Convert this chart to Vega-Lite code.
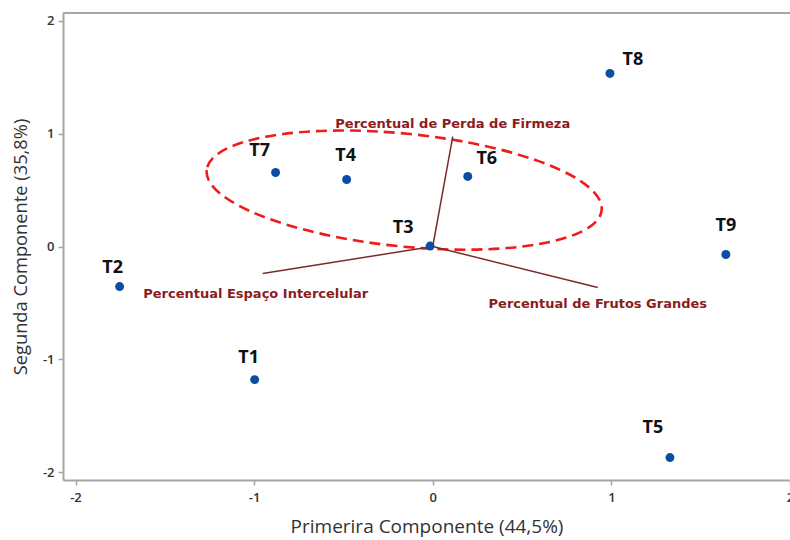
{
  "$schema": "https://vega.github.io/schema/vega-lite/v6.json",
  "width": 727,
  "height": 467,
  "autosize": {"type": "none"},
  "padding": {"left": 63, "top": 13, "right": 0, "bottom": 60},
  "background": "white",
  "config": {
    "view": {"stroke": null},
    "axis": {
      "grid": false,
      "domainColor": "#a6a6a6",
      "domainWidth": 2,
      "tickColor": "#a6a6a6",
      "tickWidth": 1.5,
      "tickSize": 5,
      "labelFont": "Open Sans",
      "labelFontSize": 13,
      "labelFontWeight": 600,
      "labelColor": "#333333",
      "labelExpr": "replace(datum.label, '\u2212', '-')",
      "titleFont": "Open Sans",
      "titleFontWeight": "normal",
      "titleColor": "#333333"
    }
  },
  "datasets": {
    "scores": [
      {"t": "T1", "pc1": -0.997, "pc2": -1.18},
      {"t": "T2", "pc1": -1.753, "pc2": -0.355},
      {"t": "T3", "pc1": -0.015, "pc2": 0.004},
      {"t": "T4", "pc1": -0.482, "pc2": 0.594},
      {"t": "T5", "pc1": 1.328, "pc2": -1.871},
      {"t": "T6", "pc1": 0.196, "pc2": 0.621},
      {"t": "T7", "pc1": -0.88, "pc2": 0.656},
      {"t": "T8", "pc1": 0.992, "pc2": 1.534},
      {"t": "T9", "pc1": 1.641, "pc2": -0.071}
    ],
    "loadings": [
      {"v": "Percentual de Perda de Firmeza", "pc1": 0.112, "pc2": 0.975},
      {"v": "Percentual Espaço Intercelular", "pc1": -0.952, "pc2": -0.239},
      {"v": "Percentual de Frutos Grandes", "pc1": 0.924, "pc2": -0.363}
    ],
    "group": [
      {"g": "grupo", "pc1": -0.16, "pc2": 0.5}
    ]
  },
  "encoding": {
    "x": {
      "field": "pc1", "type": "quantitative",
      "scale": {"domain": [-2.07, 2.0], "nice": false, "zero": false},
      "axis": {"values": [-2, -1, 0, 1, 2], "title": "Primerira Componente (44,5%)", "titleFontSize": 19, "titlePadding": 13, "labelPadding": 6, "labelFlush": false}
    },
    "y": {
      "field": "pc2", "type": "quantitative",
      "scale": {"domain": [-2.07, 2.07], "nice": false, "zero": false},
      "axis": {"values": [-2, -1, 0, 1, 2], "title": "Segunda Componente (35,8%)", "titleFontSize": 18.3, "titlePadding": 12, "labelPadding": 4}
    }
  },
  "layer": [
    {
      "data": {"name": "group"},
      "mark": {"type": "rule", "color": "#a6a6a6", "strokeWidth": 2},
      "encoding": {
        "y": {"datum": 2.07, "type": "quantitative"},
        "x": {"datum": -2.07, "type": "quantitative"},
        "x2": {"datum": 2.0}
      }
    },
    {
      "data": {"name": "group"},
      "mark": {
        "type": "point",
        "shape": "M -0.9949 -0.1011 A 1 0.284 5.8 1 0 0.9949 0.1011 A 1 0.284 5.8 1 0 -0.9949 -0.1011 Z",
        "size": 157609,
        "filled": false,
        "stroke": "#ee1c1c",
        "strokeWidth": 2.6,
        "strokeDash": [11, 6],
        "opacity": 1
      }
    },
    {
      "data": {"name": "loadings"},
      "mark": {"type": "rule", "color": "#7b2b2b", "strokeWidth": 1.5},
      "encoding": {
        "x": {"datum": 0, "type": "quantitative"},
        "y": {"datum": 0, "type": "quantitative"},
        "x2": {"field": "pc1"},
        "y2": {"field": "pc2"}
      }
    },
    {
      "data": {"name": "scores"},
      "mark": {"type": "point", "filled": true, "color": "#0a4da2", "size": 80, "opacity": 1}
    },
    {
      "data": {"name": "loadings"},
      "transform": [{"filter": "datum.v == 'Percentual de Perda de Firmeza'"}],
      "mark": {"type": "text", "font": "DejaVu Sans", "fontSize": 13, "fontWeight": "bold", "color": "#8b1c1c", "dx": 0, "dy": -13},
      "encoding": {"text": {"field": "v"}}
    },
    {
      "data": {"name": "loadings"},
      "transform": [{"filter": "datum.v == 'Percentual Espaço Intercelular'"}],
      "mark": {"type": "text", "font": "DejaVu Sans", "fontSize": 13, "fontWeight": "bold", "color": "#8b1c1c", "dx": -7, "dy": 21},
      "encoding": {"text": {"field": "v"}}
    },
    {
      "data": {"name": "loadings"},
      "transform": [{"filter": "datum.v == 'Percentual de Frutos Grandes'"}],
      "mark": {"type": "text", "font": "DejaVu Sans", "fontSize": 13, "fontWeight": "bold", "color": "#8b1c1c", "dx": 0, "dy": 17},
      "encoding": {"text": {"field": "v"}}
    },
    {"data": {"name": "scores"}, "transform": [{"filter": "datum.t == 'T1'"}],
     "mark": {"type": "text", "font": "Open Sans", "fontSize": 18, "fontWeight": "bold", "color": "#111111", "dx": -6, "dy": -22},
     "encoding": {"text": {"field": "t"}}},
    {"data": {"name": "scores"}, "transform": [{"filter": "datum.t == 'T2'"}],
     "mark": {"type": "text", "font": "Open Sans", "fontSize": 18, "fontWeight": "bold", "color": "#111111", "dx": -7, "dy": -19},
     "encoding": {"text": {"field": "t"}}},
    {"data": {"name": "scores"}, "transform": [{"filter": "datum.t == 'T3'"}],
     "mark": {"type": "text", "font": "Open Sans", "fontSize": 18, "fontWeight": "bold", "color": "#111111", "dx": -27, "dy": -18},
     "encoding": {"text": {"field": "t"}}},
    {"data": {"name": "scores"}, "transform": [{"filter": "datum.t == 'T4'"}],
     "mark": {"type": "text", "font": "Open Sans", "fontSize": 18, "fontWeight": "bold", "color": "#111111", "dx": -1, "dy": -23},
     "encoding": {"text": {"field": "t"}}},
    {"data": {"name": "scores"}, "transform": [{"filter": "datum.t == 'T5'"}],
     "mark": {"type": "text", "font": "Open Sans", "fontSize": 18, "fontWeight": "bold", "color": "#111111", "dx": -17, "dy": -30},
     "encoding": {"text": {"field": "t"}}},
    {"data": {"name": "scores"}, "transform": [{"filter": "datum.t == 'T6'"}],
     "mark": {"type": "text", "font": "Open Sans", "fontSize": 18, "fontWeight": "bold", "color": "#111111", "dx": 19, "dy": -17},
     "encoding": {"text": {"field": "t"}}},
    {"data": {"name": "scores"}, "transform": [{"filter": "datum.t == 'T7'"}],
     "mark": {"type": "text", "font": "Open Sans", "fontSize": 18, "fontWeight": "bold", "color": "#111111", "dx": -16, "dy": -22},
     "encoding": {"text": {"field": "t"}}},
    {"data": {"name": "scores"}, "transform": [{"filter": "datum.t == 'T8'"}],
     "mark": {"type": "text", "font": "Open Sans", "fontSize": 18, "fontWeight": "bold", "color": "#111111", "dx": 23, "dy": -13},
     "encoding": {"text": {"field": "t"}}},
    {"data": {"name": "scores"}, "transform": [{"filter": "datum.t == 'T9'"}],
     "mark": {"type": "text", "font": "Open Sans", "fontSize": 18, "fontWeight": "bold", "color": "#111111", "dx": 0, "dy": -29},
     "encoding": {"text": {"field": "t"}}}
  ]
}
